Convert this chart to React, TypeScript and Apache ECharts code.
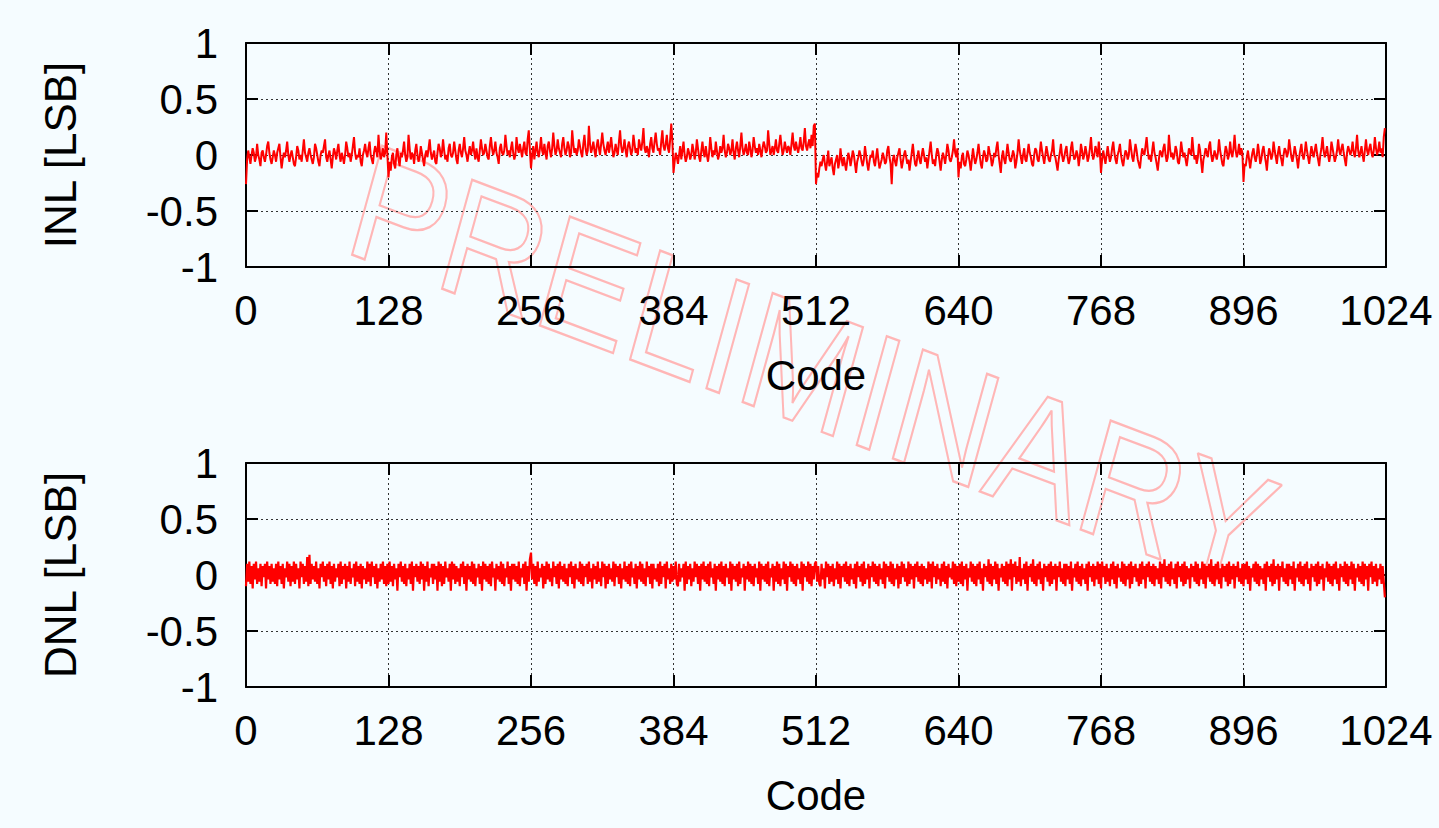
import React, { useEffect, useRef } from "react";
import * as echarts from "echarts";

// Level alphabet: character k stands for -0.28 + 0.02*k LSB ("E" = 0).
const LEVELS = "0123456789ABCDEFGHIJKLMNOPQRSTUVWXYZ";

// INL per code, one string per 128-code segment (groups of 8 codes).
const INL_SEG_0 = "1CGDAEHF BDJEC9FG DBEIKFCA DGEBFHJD 8CFDGKEB EGDA9DIG CEBGLFDB FHECADJH EB9EGFIL DBEGC8DH FCGJEBFD AEKHDFBE IMFCEDHB 9EGJFDHK ECAFIGDN GCEHDFOE";
const INL_SEG_1 = "4B7DFA8E HC9FDGKE BDNHCFEA GJEBDIFC 9EGDHLFC EGBAFJHD FLGCEBHJ EDFKGCAG JFDHMGEB FIEGKFCH DBGLHEFJ GDCIMHEG KFDAHJFE GNIEGDHK FCEMHFJG DHKFELPG";
const INL_SEG_2 = "8EICGKFD HMGEJFCI KGDHOIEG LHFDJMHE GKIDFPJF HEGLIFDJ NHEGRJFH KGDILHEJ OJGEHKFI MHDFJGEK PIFHLGDI KHEGNJFH ELIGKQHF IGDJMHFK OJGHEKPI GJNHFLSK";
const INL_SEG_3 = "6BFDAEIC GKEBDHFC EJGCFLHD BGKFDIEB FMHDGEKG CEIFHNGD FJHEGLFC HKGDIOHE GJFEKHDG MIFHEJGD HKIFGPJE GIEHLGFJ NIEGKHFI HEJOIGKH FIMHGKQI GJLHNIRS";
const INL_SEG_4 = "1648B9CE A7BG9BD8 5ACE8BHC 9DA7BFD9 CGEA6BDG EB9CIEA7 BEDGB9DH C8ACFDAB GIDA1CEB 9DFHC8BE GDAC7BFJ EA9DGCAE HEBD8CGK EAC9EHFB 7CFDAEJG CBDGLFDH";
const INL_SEG_5 = "4B8DFA9C GEB7CHDA CFJEA8DG EBCIFD9B FDHKEA6D GCAEJFCB DGE8BFLG DAEHCBFJ FDA9EHGC BFKGDAEI FCBEGLED A7CFJEBD GIDACHKF CDGE9DJG CEIFBDHM FCEIGDKF";
const INL_SEG_6 = "6CGDAEIE BDHKFCAE GJEB9DGF CELHDBFJ GCA8DHFE IMGCEBGK FDA7CGFD HJEBDNHD FCEIGBAE KGDFC9DH FEMGCEAD JGB6CEHF DIKEBDGE CFLGDA9E IGCEKFDH NGDFJEHF";
const INL_SEG_7 = "2A9DGC8C FHDBEJFA CGIEB7DH FCEKGDAF IEC9EHGD FLHDBEIF C8DGJECF KGDAEIFD GJFC9EHM GDFIEBEK HEBDGLGE HJFC9FIG EGKFDHNG DFIEBGLG EHJFDGMH EGKFHDMQ";

// DNL per code, same encoding.
const DNL_SEG_0 = "9JBKAI8J CKAHBJ9I DJ8KCIAJ BHAJ9KCI AJ8HDKBJ 9IBKAJCH 8KDJAIBM 9NAJCIBK AH8JDKBI 9JCKAI8J BHDJ9KAI CJ8IBKAH DJ9KBIAJ 8ICHAKBJ 9KDIAJ8H BJCKAI9J";
const DNL_SEG_1 = "AKBI9JCH 7JDKBIAJ 9HCJAK7I DJBIAKCJ 7IBK9HDJ AJCI7KBJ 9IAKDHBJ 7KCJAIBH 9JDKAI7J CIBKAJ9H DJAI7KCJ BIAJ9KDH 7JCIBKAJ 9HDKAI7J CJBIAK9H DJAK7IBL";
const DNL_SEG_2 = "OCJAI9KB HDJ8IAKC JBH9KDIA J8KCIBJA H9JDKAI8 JCHBKAJ9 IDJAKBH8 JCIAKBH9 KDJ8IAJC HBK9JDIA J8HCKBIA J9KDHAJ8 ICKBJAH9 KDIAJ8JC HBJ9KAID J8KCHAJB";
const DNL_SEG_3 = "ICKA9JBH DJ7KAICJ 9HBKDJAI 7JCKBIAJ 9KDHAJ7I CJBKAI9J DHAK7JCI BJ9KAHDJ 7ICKBJAI 9JDHAK7J CIBJAK9H DJ7IBKAJ 9HCKAJ7I DKBJAI9J CHAK7JDI BKAJ9ICJ";
const DNL_SEG_4 = "KBIA9JCH 8KDJAIBJ 9HCKAJ8I DJBKAI9J CHAJ8KDI BJ9KAHCJ 8IDKBJAI 9JCHAK8J DIBKAJ9H CJ8IAKDJ BH9KAJCI 8JDKBIAJ 9ICHAKBJ 8KDIAJCH 9JBKAI8J DHCKAJ9I";
const DNL_SEG_5 = "BJAK9ICJ 7HDKBJAI 9JCKAH7J DIBLAJ9I CKAJ7HDJ BIAK9JCL 7JDKAIBM 9HCJAK7I DJBLAI9J CKAH7JDI BJ9KAICJ 7IDKBHAJ 9JCIAK7H DJBKAI9J CHAJ7KDI BJ9ICKAJ";
const DNL_SEG_6 = "8KDIAJBH 9JCKAI8J DHBKAJ9I CJ8KAIDJ BH9JAKCI 8JDKBIAJ 9ICHAK8J DLBIAJ9K CHAJ8KDI BJ9KAICH 8JDIBKAJ 9HCKAJ8I DJBLAI9J CKAH8JDI BJ9KAICJ 8IDKBHAJ";
const DNL_SEG_7 = "9JCKAI7H DJBKAJ9I CHAJ7KDI BJ9LAICJ 7IDKBHAJ 9JCIAK7H DJBKAI9J CKAH7JDI BJ9KAICJ 7HDKBJAI 9JCKAH7J DIBKAJ9I CKAJ7HDJ BIAK9JCI 7JDKAIBJ 9HCJAIB4";

const INL_SEGMENTS = [INL_SEG_0, INL_SEG_1, INL_SEG_2, INL_SEG_3, INL_SEG_4, INL_SEG_5, INL_SEG_6, INL_SEG_7];
const DNL_SEGMENTS = [DNL_SEG_0, DNL_SEG_1, DNL_SEG_2, DNL_SEG_3, DNL_SEG_4, DNL_SEG_5, DNL_SEG_6, DNL_SEG_7];

const X_MIN = 0;
const X_MAX = 1024;
const X_STEP = 128;
const Y_MIN = -1;
const Y_MAX = 1;
const Y_STEP = 0.5;
const X_TITLE = "Code";
const INL_TITLE = "INL [LSB]";
const DNL_TITLE = "DNL [LSB]";
const WATERMARK = "PRELIMINARY";

const decode = (segments: string[]): [number, number][] =>
  segments
    .join("")
    .replace(/\s+/g, "")
    .split("")
    .map((c, i) => [i, Number((-0.28 + 0.02 * LEVELS.indexOf(c)).toFixed(2))]);

const FONT = "'Liberation Sans', Arial, Helvetica, sans-serif";
const BG = "#f5fcff";

export default function App() {
  const ref = useRef<HTMLDivElement>(null);

  useEffect(() => {
    document.body.style.margin = "0";
    document.body.style.background = BG;
    if (!ref.current) return;
    const chart = echarts.init(ref.current, null, { renderer: "svg" });

    const inl = decode(INL_SEGMENTS);
    const dnl = decode(DNL_SEGMENTS);

    const labelStyle = { color: "#000", fontSize: 42, fontFamily: FONT };
    const lineBlack = { color: "#000", width: 2 };
    const gridLine = { show: true, lineStyle: { type: [2, 3], color: "#333", width: 1 } };

    const xMain = (gridIndex: number) => ({
      type: "value",
      gridIndex,
      min: X_MIN,
      max: X_MAX,
      interval: X_STEP,
      position: "bottom",
      axisLine: { show: true, onZero: false, lineStyle: lineBlack },
      axisTick: { show: true, inside: true, length: 12, lineStyle: lineBlack },
      axisLabel: {
        show: true,
        margin: 22,
        showMinLabel: true,
        showMaxLabel: true,
        formatter: (v: number) => String(v),
        ...labelStyle,
      },
      splitLine: gridLine,
      name: X_TITLE,
      nameLocation: "middle",
      nameGap: 87,
      nameTextStyle: labelStyle,
    });
    const xMirror = (gridIndex: number) => ({
      type: "value",
      gridIndex,
      min: X_MIN,
      max: X_MAX,
      interval: X_STEP,
      position: "top",
      axisLine: { show: true, onZero: false, lineStyle: lineBlack },
      axisTick: { show: true, inside: true, length: 12, lineStyle: lineBlack },
      axisLabel: { show: false },
      splitLine: { show: false },
    });
    const yMain = (gridIndex: number, name: string) => ({
      type: "value",
      gridIndex,
      min: Y_MIN,
      max: Y_MAX,
      interval: Y_STEP,
      position: "left",
      axisLine: { show: true, onZero: false, lineStyle: lineBlack },
      axisTick: { show: true, inside: true, length: 12, lineStyle: lineBlack },
      axisLabel: { show: true, margin: 28, showMinLabel: true, showMaxLabel: true, ...labelStyle },
      splitLine: gridLine,
      name,
      nameLocation: "middle",
      nameGap: 164,
      nameTextStyle: { ...labelStyle, fontSize: 44 },
    });
    const yMirror = (gridIndex: number) => ({
      type: "value",
      gridIndex,
      min: Y_MIN,
      max: Y_MAX,
      interval: Y_STEP,
      position: "right",
      axisLine: { show: true, onZero: false, lineStyle: lineBlack },
      axisTick: { show: true, inside: true, length: 12, lineStyle: lineBlack },
      axisLabel: { show: false },
      splitLine: { show: false },
    });

    chart.setOption({
      animation: false,
      backgroundColor: BG,
      grid: [
        { left: 246, width: 1140, top: 43, height: 224 },
        { left: 246, width: 1140, top: 463, height: 224 },
      ],
      xAxis: [xMain(0), xMirror(0), xMain(1), xMirror(1)],
      yAxis: [yMain(0, INL_TITLE), yMirror(0), yMain(1, DNL_TITLE), yMirror(1)],
      series: [
        {
          type: "line",
          xAxisIndex: 0,
          yAxisIndex: 0,
          data: inl,
          showSymbol: false,
          symbol: "none",
          lineStyle: { color: "#ff0000", width: 2 },
          z: 5,
        },
        {
          type: "line",
          xAxisIndex: 2,
          yAxisIndex: 2,
          data: dnl,
          showSymbol: false,
          symbol: "none",
          lineStyle: { color: "#ff0000", width: 2.2 },
          z: 5,
        },
      ],
      graphic: [
        {
          type: "group",
          x: 813,
          y: 368,
          scaleY: 1.17,
          z: 100,
          silent: true,
          children: [
            {
              type: "text",
              rotation: -0.312,
              style: {
                text: WATERMARK,
                font: `142px ${FONT}`,
                fill: "rgba(0,0,0,0)",
                stroke: "#ffb6b6",
                lineWidth: 2,
                align: "center",
                verticalAlign: "middle",
              },
            },
          ],
        },
      ],
    });

    return () => chart.dispose();
  }, []);

  return <div ref={ref} style={{ width: 1439, height: 828, background: BG }} />;
}
